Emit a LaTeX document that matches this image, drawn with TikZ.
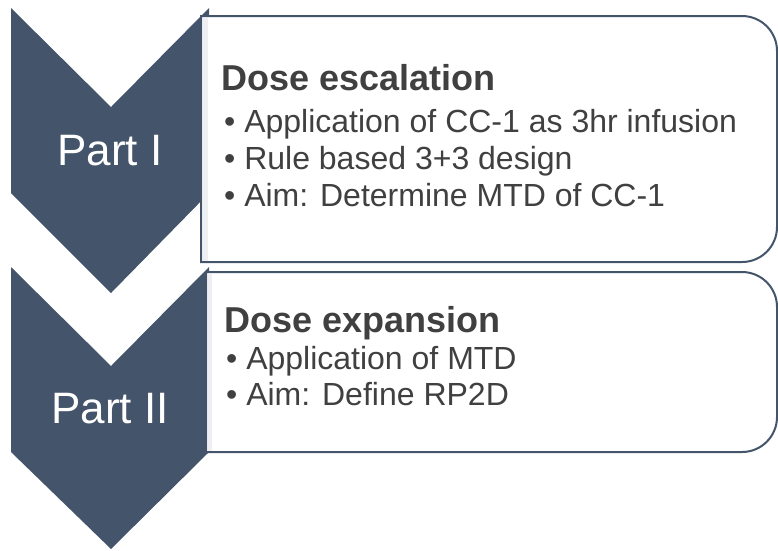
\documentclass[tikz,border=0pt]{standalone}
\usepackage{fontspec}
\setmainfont{Liberation Sans}
\definecolor{navy}{HTML}{44546A}
\definecolor{txt}{HTML}{404040}
\definecolor{strip}{HTML}{EEEFF3}
\tikzset{
  chevron/.style={fill=navy, draw=none},
  panel/.style={fill=white, draw=navy, line width=2pt},
  parttext/.style={text=white, font=\fontsize{44}{44}\selectfont, anchor=base, inner sep=0pt},
  headtext/.style={text=txt, font=\bfseries\fontsize{36}{36}\selectfont, anchor=base west, inner sep=0pt},
  bullettext/.style={text=txt, font=\fontsize{32}{32}\selectfont, anchor=base west, inner sep=0pt},
}
\begin{document}
\begin{tikzpicture}[x=1pt, y=-1pt]
\useasboundingbox (0,0) rectangle (778,550);
% chevrons
\fill[chevron] (11,8) -- (111,107) -- (209,8) -- (209,193) -- (111,293) -- (11,193) -- cycle;
\fill[chevron] (11,267) -- (111,366) -- (209,267) -- (209,452) -- (111,549) -- (11,452) -- cycle;
% panels
\path[panel] (201,262) -- (201,16) -- (742,16) arc(90:0:35pt) -- (777,227) arc(0:-90:35pt) -- cycle;
\fill[strip] (202.5,17.5) rectangle (208,260.5);
\path[panel] (206,452) -- (206,272) -- (742,272) arc(90:0:35pt) -- (777,417) arc(0:-90:35pt) -- cycle;
\fill[strip] (207.5,273.5) rectangle (212,450.5);
% labels
\node[parttext] (p1) at (110,165) {Part I};
\node[parttext] (p2) at (110,423) {Part II};
\node[headtext] (h1) at (221,90) {Dose escalation};
\node[bullettext] (b11) at (224,132) {\textbullet\ Application of CC-1 as 3hr infusion};
\node[bullettext] (b12) at (224,169) {\textbullet\ Rule based 3+3 design};
\node[bullettext] (b13) at (224,206) {\textbullet\ Aim: Determine MTD of CC-1};
\node[headtext] (h2) at (224,332) {Dose expansion};
\node[bullettext] (b21) at (226,369) {\textbullet\ Application of MTD};
\node[bullettext] (b22) at (226,405) {\textbullet\ Aim: Define RP2D};
\end{tikzpicture}
\end{document}
